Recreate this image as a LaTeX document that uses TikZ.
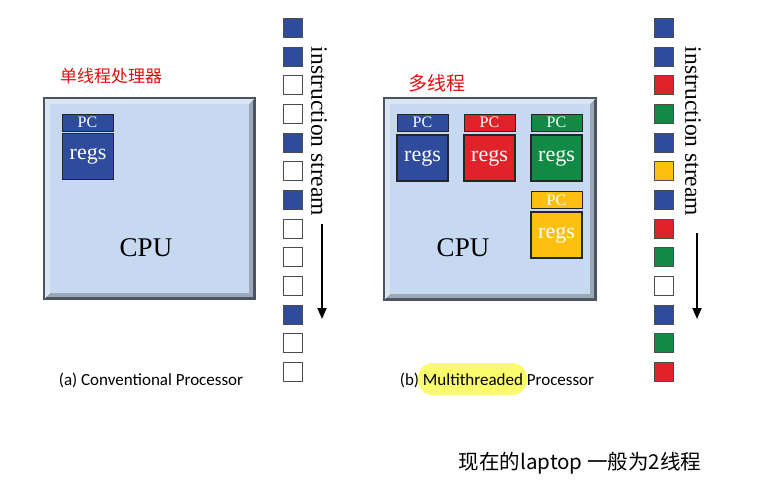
\documentclass[tikz,border=0pt]{standalone}
\usepackage{fontspec}
\setmainfont{Liberation Serif}
\newfontfamily\capfont{Carlito}
\newfontfamily\cjk{Noto Sans CJK SC}
\usetikzlibrary{arrows.meta}
\definecolor{cpufill}{HTML}{C6D9F0}
\definecolor{bevlight}{HTML}{DCE6F2}
\definecolor{bevdark}{HTML}{9AA8B8}
\definecolor{cpuborder}{HTML}{4B5463}
\definecolor{sqB}{HTML}{2F4B9C}
\definecolor{sqR}{HTML}{E0222A}
\definecolor{sqG}{HTML}{108A44}
\definecolor{sqY}{HTML}{FDC010}
\definecolor{sqW}{HTML}{FFFFFF}
\definecolor{hl}{HTML}{FBFB6E}
\definecolor{handred}{HTML}{E01010}
\tikzset{
  cpubox/.style={draw=cpuborder, line width=1.6pt, fill=bevdark, inner sep=0pt},
  pcbox/.style={draw=black!85, line width=1pt, inner sep=0pt, minimum width=51pt, minimum height=17pt, text=white, font=\fontsize{16}{16}\selectfont},
  regbox/.style={draw=black!85, line width=1.2pt, inner sep=0pt, minimum width=51pt, minimum height=46pt, text=white, font=\fontsize{22}{22}\selectfont},
  sq/.style={draw=black!70, line width=1.1pt, inner sep=0pt, minimum size=19pt},
  streamtxt/.style={rotate=-90, font=\fontsize{23.5}{23.5}\selectfont, inner sep=0pt},
  streamarrow/.style={line width=1.8pt, -{Triangle[length=11pt,width=9pt]}},
  cputxt/.style={font=\fontsize{27}{27}\selectfont, inner sep=0pt},
  captxt/.style={font=\capfont\fontsize{17}{17}\selectfont, inner sep=0pt},
  handtxt/.style={font=\cjk, inner sep=0pt}
}
\begin{document}
\begin{tikzpicture}[x=1pt,y=-1pt]
\useasboundingbox (0,0) rectangle (765,483);
\fill[white] (0,0) rectangle (765,483);

% ---------- (a) conventional processor ----------
\node[cpubox, minimum width=209pt, minimum height=199pt] (cpuA) at (149.5,198.5) {};
\fill[bevlight] (cpuA.north west) -- (cpuA.north east) -- ([shift={(-6,6)}]cpuA.north east) -- ([shift={(6,6)}]cpuA.north west) -- ([shift={(6,-6)}]cpuA.south west) -- (cpuA.south west) -- cycle;
\fill[cpufill] ([shift={(6,6)}]cpuA.north west) rectangle ([shift={(-6,-6)}]cpuA.south east);
\draw[cpuborder, line width=1.6pt] (cpuA.north west) rectangle (cpuA.south east);
\node[pcbox, fill=sqB] (pcA) at (87.5,122.5) {PC};
\node[regbox, fill=sqB] (regA) at (88,156.5) {regs};
\node[cputxt] (cpuAt) at (146,248) {CPU};

\foreach \c [count=\i from 0] in {B,B,W,W,B,W,B,W,W,W,B,W,W} {
  \node[sq, fill=sq\c] (L\i) at (293,28+28.67*\i) {};
}
\node[streamtxt] (stA) at (319,131.5) {instruction stream};
\coordinate (aA1) at (322,224);
\coordinate (aA2) at (322,319);
\draw[streamarrow] (aA1) -- (aA2);

\node[captxt] (capA) at (151,380) {(a) Conventional Processor};
\node[handtxt, text=handred, font=\cjk\fontsize{17}{17}\selectfont] (hA) at (111,76) {单线程处理器};

% ---------- (b) multithreaded processor ----------
\node[cpubox, minimum width=210pt, minimum height=200pt] (cpuB) at (490,199) {};
\fill[bevlight] (cpuB.north west) -- (cpuB.north east) -- ([shift={(-6,6)}]cpuB.north east) -- ([shift={(6,6)}]cpuB.north west) -- ([shift={(6,-6)}]cpuB.south west) -- (cpuB.south west) -- cycle;
\fill[cpufill] ([shift={(6,6)}]cpuB.north west) rectangle ([shift={(-6,-6)}]cpuB.south east);
\draw[cpuborder, line width=1.6pt] (cpuB.north west) rectangle (cpuB.south east);
\node[pcbox, fill=sqB] (pcB1) at (422.5,122.5) {PC};
\node[regbox, fill=sqB] (regB1) at (422.5,158) {regs};
\node[pcbox, fill=sqR] (pcB2) at (489.5,122.5) {PC};
\node[regbox, fill=sqR] (regB2) at (489.5,158) {regs};
\node[pcbox, fill=sqG] (pcB3) at (556.5,122.5) {PC};
\node[regbox, fill=sqG] (regB3) at (556.5,158) {regs};
\node[pcbox, fill=sqY] (pcB4) at (556.5,200) {PC};
\node[regbox, fill=sqY] (regB4) at (556.5,235) {regs};
\node[cputxt] (cpuBt) at (463,248) {CPU};

\foreach \c [count=\i from 0] in {B,B,R,G,B,Y,B,R,G,W,B,G,R} {
  \node[sq, fill=sq\c] (R\i) at (664,28+28.67*\i) {};
}
\node[streamtxt] (stB) at (693,131.5) {instruction stream};
\coordinate (aB1) at (697,233);
\coordinate (aB2) at (697,319);
\draw[streamarrow] (aB1) -- (aB2);

\fill[hl, rounded corners=15pt] (418,363) rectangle (527,395);
\node[captxt] (capB) at (497,380) {(b) Multithreaded Processor};
\node[handtxt, text=handred, font=\cjk\fontsize{19}{19}\selectfont] (hB) at (437,83) {多线程};

\node[handtxt, font=\cjk\fontsize{20.5}{20.5}\selectfont] (note) at (580,463) {现在的laptop 一般为2线程};
\end{tikzpicture}
\end{document}
